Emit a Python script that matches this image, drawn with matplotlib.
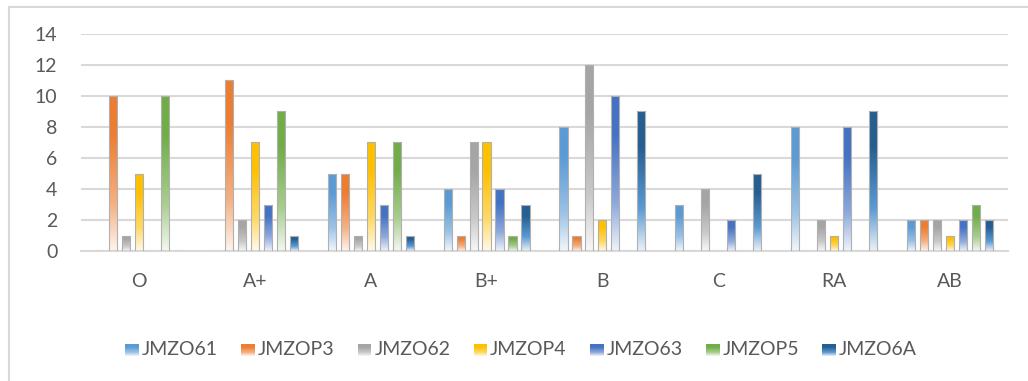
import numpy as np
import matplotlib
matplotlib.use('Agg')
import matplotlib.pyplot as plt
from matplotlib.colors import to_rgb, LinearSegmentedColormap
from matplotlib.patches import Rectangle
from matplotlib.legend_handler import HandlerBase
from matplotlib.lines import Line2D

plt.rcParams['font.family'] = ['Lato', 'DejaVu Sans']

# chart data
categories = ['O', 'A+', 'A', 'B+', 'B', 'C', 'RA', 'AB']
series = ['JMZO61', 'JMZOP3', 'JMZO62', 'JMZOP4', 'JMZO63', 'JMZOP5', 'JMZO6A']
JMZO61 = [0, 0, 5, 4, 8, 3, 8, 2]
JMZOP3 = [10, 11, 5, 1, 1, 0, 0, 2]
JMZO62 = [1, 2, 1, 7, 12, 4, 2, 2]
JMZOP4 = [5, 7, 7, 7, 2, 0, 1, 1]
JMZO63 = [0, 3, 3, 4, 10, 2, 8, 2]
JMZOP5 = [10, 9, 7, 1, 0, 0, 0, 3]
JMZO6A = [0, 1, 1, 3, 9, 5, 9, 2]
values = [JMZO61, JMZOP3, JMZO62, JMZOP4, JMZO63, JMZOP5, JMZO6A]
colors = ['#5B9BD5', '#ED7D31', '#A5A5A5', '#FFC000', '#4472C4', '#70AD47', '#255E91']


def make_cmap(c, mid=None):
    c = np.array(to_rgb(c))
    w = np.ones(3)
    if mid is None:
        mid_c = c * 0.6 + w * 0.4
    else:
        mid_c = np.array(to_rgb(mid))
    low = c * 0.08 + w * 0.92
    return LinearSegmentedColormap.from_list(
        'g', [(0, low), (0.3, mid_c), (0.75, c), (1, c)])


cmaps = [make_cmap(c) for c in colors[:-1]] + [make_cmap(colors[-1], '#5B9BD5')]

fig = plt.figure(figsize=(10.28, 3.81), dpi=100)
ax = fig.add_axes([0.0788, 0.341, 0.9017, 0.570])

x = np.arange(len(categories))
slot = 0.112
width = 0.07
grad = np.linspace(1, 0, 256).reshape(-1, 1)

for i, (vals, cm) in enumerate(zip(values, cmaps)):
    pos = x + (i - 3) * slot
    bars = ax.bar(pos, vals, width=width, facecolor='none',
                  edgecolor='#B0B0B0', linewidth=0.8, zorder=3)
    for b in bars:
        h = b.get_height()
        if h <= 0:
            continue
        im = ax.imshow(grad, cmap=cm, vmin=0, vmax=1, aspect='auto',
                       extent=[b.get_x(), b.get_x() + b.get_width(), 0, h],
                       zorder=2, interpolation='bilinear')
        im.set_clip_path(b)

ax.set_xlim(-0.5, len(categories) - 0.5)
ax.set_ylim(0, 14)
ax.set_yticks(range(0, 15, 2))
ax.set_xticks(x)
ax.set_xticklabels(categories)
ax.tick_params(axis='both', length=0, labelsize=14, colors='#595959')
ax.tick_params(axis='x', pad=16)
ax.tick_params(axis='y', pad=17)
ax.grid(axis='y', color='#D9D9D9', linewidth=1.5, zorder=0)
for s in ['top', 'right', 'left']:
    ax.spines[s].set_visible(False)
ax.spines['bottom'].set_color('#D9D9D9')
ax.spines['bottom'].set_linewidth(1.5)


class GradHandler(HandlerBase):
    def __init__(self, cmap):
        super().__init__()
        self.cmap = cmap

    def create_artists(self, legend, orig, xd, yd, w, h, fontsize, trans):
        n = 12
        arts = []
        for k in range(n):
            r = Rectangle((xd, yd + h * k / n), w, h / n + 0.1,
                          facecolor=self.cmap((k + 0.5) / n), edgecolor='none',
                          transform=trans)
            arts.append(r)
        return arts


handles = [Line2D([], [], label=n) for n in series]
fig.legend(handles, series, loc='center', bbox_to_anchor=(0.507, 0.082),
           ncol=7, frameon=False, fontsize=14, labelcolor='#595959',
           handlelength=0.7, handleheight=0.55, handletextpad=0.15, columnspacing=1.2,
           handler_map={h: GradHandler(cm) for h, cm in zip(handles, cmaps)})

# chart border
fig.add_artist(Line2D([0.0088, 0.0088], [0, 0.982], color='#D9D9D9', lw=1.5))
fig.add_artist(Line2D([0.0088, 1], [0.982, 0.982], color='#D9D9D9', lw=1.5))

fig.savefig('out.png', dpi=100)
